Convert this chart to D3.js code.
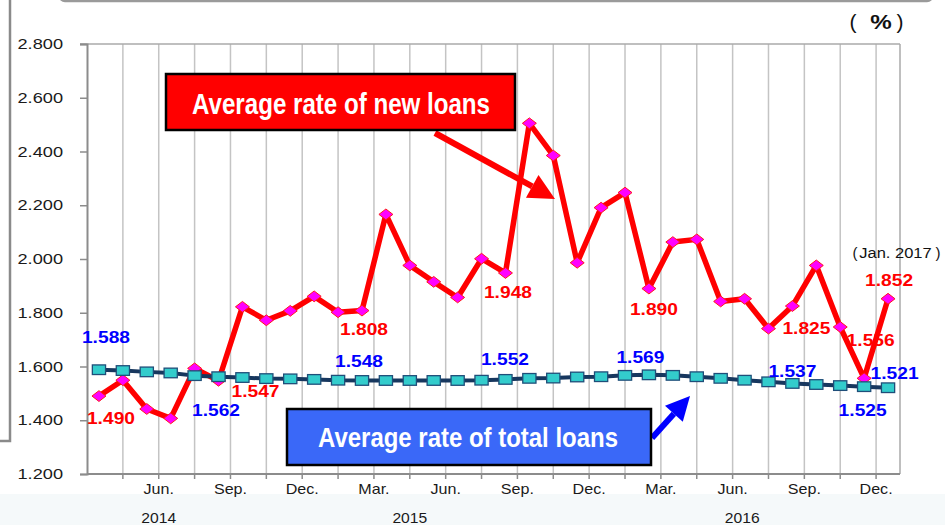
<!DOCTYPE html>
<html>
<head>
<meta charset="utf-8">
<script src="https://cdn.jsdelivr.net/npm/d3@7"></script>
<style>
  html, body { margin: 0; padding: 0; background: #ffffff; }
  svg { display: block; }
  text { font-family: "Liberation Sans", Arial, sans-serif; }
</style>
</head>
<body>
<svg id="chart" width="945" height="525"></svg>
<script>
// Monthly lending rates, Apr. 2014 – Jan. 2017 (%)
const months = [
  "2014-04","2014-05","2014-06","2014-07","2014-08","2014-09","2014-10","2014-11","2014-12",
  "2015-01","2015-02","2015-03","2015-04","2015-05","2015-06","2015-07","2015-08","2015-09",
  "2015-10","2015-11","2015-12","2016-01","2016-02","2016-03","2016-04","2016-05","2016-06",
  "2016-07","2016-08","2016-09","2016-10","2016-11","2016-12","2017-01"
];
const newLoans = [
  1.490, 1.549, 1.442, 1.407, 1.593, 1.547, 1.822, 1.772, 1.807,
  1.861, 1.802, 1.808, 2.166, 1.976, 1.915, 1.857, 2.001, 1.948,
  2.505, 2.385, 1.986, 2.191, 2.247, 1.890, 2.063, 2.073, 1.842,
  1.852, 1.741, 1.825, 1.976, 1.747, 1.556, 1.852
];
const totalLoans = [
  1.588, 1.585, 1.580, 1.576, 1.566, 1.562, 1.559, 1.555, 1.554,
  1.552, 1.549, 1.548, 1.548, 1.548, 1.548, 1.548, 1.549, 1.552,
  1.556, 1.557, 1.561, 1.562, 1.567, 1.569, 1.567, 1.562, 1.556,
  1.549, 1.543, 1.537, 1.533, 1.529, 1.525, 1.521
];
const yTickValues = [1.2, 1.4, 1.6, 1.8, 2.0, 2.2, 2.4, 2.6, 2.8];
const xTickLabels = ["Jun.","Sep.","Dec.","Mar.","Jun.","Sep.","Dec.","Mar.","Jun.","Sep.","Dec."];
const yearLabels = ["2014","2015","2016"];
const labelledMonths = ["2014-04","2014-09","2015-03","2015-09","2016-03","2016-09","2016-12","2017-01"];
const seriesNames = ["Average rate of new loans", "Average rate of total loans"];
const unitLabel = "%";
const lastMonthNote = "Jan. 2017";

const svg = d3.select("#chart");
const plot = { left: 87, right: 900, top: 44, bottom: 474 };

const x = d3.scaleBand().domain(months).range([plot.left, plot.right]).paddingInner(0).paddingOuter(0);
const bw = x.bandwidth();
const cx = m => x(m) + bw / 2;
const atBand = t => plot.left + t * bw;          // position in band units from the left edge
const y = d3.scaleLinear().domain([1.2, 2.8]).range([plot.bottom, plot.top]);
const fmt = d3.format(".3f");

// horizontally widened text helper
function wideText(parent, px, py, str, sx) {
  return parent.append("text")
    .attr("transform", `translate(${px},${py}) scale(${sx},1)`)
    .text(str);
}

// page frame remnants
svg.append("rect").attr("x", 0).attr("y", 494).attr("width", 945).attr("height", 31).attr("fill", "#f5f9fa");
svg.append("rect").attr("x", 60).attr("y", -30).attr("width", 872).attr("height", 31).attr("rx", 5)
  .attr("fill", "none").attr("stroke", "#9a9a9a").attr("stroke-width", 2.5);
svg.append("rect").attr("x", -30).attr("y", -30).attr("width", 40).attr("height", 471)
  .attr("fill", "none").attr("stroke", "#8a8a8a").attr("stroke-width", 2.5);

// vertical gridlines every one and a half months
const gridT = d3.range(1.5, 34, 1.5);
svg.append("g").selectAll("line").data(gridT).join("line")
  .attr("x1", d => atBand(d)).attr("x2", d => atBand(d))
  .attr("y1", plot.top).attr("y2", plot.bottom)
  .attr("stroke", "#c4c4c4").attr("stroke-width", 1.5);

// plot frame
svg.append("line").attr("x1", plot.left - 7).attr("x2", plot.right).attr("y1", plot.top).attr("y2", plot.top)
  .attr("stroke", "#aaaaaa").attr("stroke-width", 1.5);
svg.append("line").attr("x1", plot.right).attr("x2", plot.right).attr("y1", plot.top).attr("y2", plot.bottom)
  .attr("stroke", "#aaaaaa").attr("stroke-width", 1.5);

// y axis
const yAxis = d3.axisLeft(y).tickValues(yTickValues).tickSize(7).tickFormat(() => "");
const gy = svg.append("g").attr("transform", `translate(${plot.left},0)`).call(yAxis);
gy.select(".domain").attr("stroke", "#8c8c8c").attr("stroke-width", 2);
gy.selectAll(".tick line").attr("stroke", "#8c8c8c").attr("stroke-width", 1.5);
yTickValues.forEach(v => {
  wideText(svg, 63, y(v) + 5, fmt(v), 1.3)
    .attr("text-anchor", "end").attr("font-size", 14).attr("fill", "#1a1a1a");
});

// x axis
svg.append("line").attr("x1", plot.left).attr("x2", plot.right).attr("y1", plot.bottom).attr("y2", plot.bottom)
  .attr("stroke", "#8c8c8c").attr("stroke-width", 2);
svg.append("g").selectAll("line").data(gridT.filter(t => t < 34)).join("line")
  .attr("x1", d => atBand(d)).attr("x2", d => atBand(d))
  .attr("y1", plot.bottom).attr("y2", plot.bottom + 5)
  .attr("stroke", "#8c8c8c").attr("stroke-width", 1.5);
xTickLabels.forEach((lab, k) => {
  wideText(svg, atBand(3 + 3 * k), 494, lab, 1.15)
    .attr("text-anchor", "middle").attr("font-size", 14).attr("fill", "#1a1a1a");
});
const yearPos = [3, 13.5, 27.4];
yearLabels.forEach((lab, k) => {
  wideText(svg, atBand(yearPos[k]), 523, lab, 1.08)
    .attr("text-anchor", "middle").attr("font-size", 14.5).attr("fill", "#1a1a1a");
});

// unit label with wide parentheses
const unit = svg.append("g").attr("fill", "#111");
unit.append("text").attr("x", 853).attr("y", 29).attr("text-anchor", "middle").attr("font-size", 21).text("(");
unit.append("text").attr("x", 881).attr("y", 29).attr("text-anchor", "middle").attr("font-size", 21)
  .attr("font-weight", "bold").attr("transform", "translate(881,0) scale(1.15,1) translate(-881,0)").text(unitLabel);
unit.append("text").attr("x", 900).attr("y", 29).attr("text-anchor", "middle").attr("font-size", 21).text(")");

// note for the last month
const note = svg.append("g").attr("fill", "#111");
note.append("text").attr("x", 855).attr("y", 257.5).attr("text-anchor", "middle").attr("font-size", 15).text("(");
wideText(note, 895.5, 257.5, lastMonthNote, 1.1).attr("text-anchor", "middle").attr("font-size", 15);
note.append("text").attr("x", 938).attr("y", 257.5).attr("text-anchor", "middle").attr("font-size", 15).text(")");

// lines
const line = d3.line().x((d, i) => cx(months[i])).y(d => y(d));
svg.append("path").datum(newLoans).attr("d", line)
  .attr("fill", "none").attr("stroke", "#ff0000").attr("stroke-width", 5.5).attr("stroke-linejoin", "round");
svg.append("g").selectAll("path").data(newLoans).join("path")
  .attr("d", "M0,-5.4L7,0L0,5.4L-7,0Z")
  .attr("transform", (d, i) => `translate(${cx(months[i])},${y(d)})`)
  .attr("fill", "#ff00ff").attr("stroke", "#ff1a1a").attr("stroke-width", 1);

svg.append("path").datum(totalLoans).attr("d", line)
  .attr("fill", "none").attr("stroke", "#17375e").attr("stroke-width", 4).attr("stroke-linejoin", "round");
svg.append("g").selectAll("rect").data(totalLoans).join("rect")
  .attr("x", (d, i) => cx(months[i]) - 6.6).attr("y", d => y(d) - 4.8)
  .attr("width", 13.2).attr("height", 9.6)
  .attr("fill", "#33cccc").attr("stroke", "#1f4e79").attr("stroke-width", 1.3);

// value labels
const newOffsets = [[12, 28], [37, 16], [2, 24], [2.5, 25], [5, 26], [14, 28], [6.5, -32], [1, -13]];
const totalOffsets = [[7, -27], [-2.5, 39], [-3, -13], [-0.5, -14], [-8.5, -12], [0, -6], [-1.5, 29], [6.5, -9]];
labelledMonths.forEach((m, k) => {
  const i = months.indexOf(m);
  wideText(svg, cx(m) + newOffsets[k][0], y(newLoans[i]) + newOffsets[k][1], fmt(newLoans[i]), 1.13)
    .attr("text-anchor", "middle").attr("font-size", 17).attr("font-weight", "bold").attr("fill", "#ff0000");
  wideText(svg, cx(m) + totalOffsets[k][0], y(totalLoans[i]) + totalOffsets[k][1], fmt(totalLoans[i]), 1.13)
    .attr("text-anchor", "middle").attr("font-size", 17).attr("font-weight", "bold").attr("fill", "#0000ff");
});

// series call-out boxes with arrows
function arrow(x1, y1, x2, y2, color, w, head) {
  const ang = Math.atan2(y2 - y1, x2 - x1);
  const bx = x2 - head * Math.cos(ang), by = y2 - head * Math.sin(ang);
  svg.append("line").attr("x1", x1).attr("y1", y1).attr("x2", bx).attr("y2", by)
    .attr("stroke", color).attr("stroke-width", w);
  const px = Math.sin(ang) * head * 0.5, py = -Math.cos(ang) * head * 0.5;
  svg.append("path")
    .attr("d", `M${x2},${y2}L${bx + px},${by + py}L${bx - px},${by - py}Z`)
    .attr("fill", color);
}
arrow(435, 133, 555, 199, "#ff0000", 6, 26);
arrow(652, 438, 690, 396, "#0000ff", 6, 24);

svg.append("rect").attr("x", 166).attr("y", 74).attr("width", 349).attr("height", 56)
  .attr("fill", "#ff0000").attr("stroke", "#000").attr("stroke-width", 2.5);
svg.append("text").attr("x", 192).attr("y", 114).attr("font-size", 29).attr("font-weight", "bold")
  .attr("fill", "#fff").attr("textLength", 298).attr("lengthAdjust", "spacingAndGlyphs")
  .attr("font-family", "'Liberation Sans Narrow', 'Liberation Sans', Arial, sans-serif")
  .text(seriesNames[0]);

svg.append("rect").attr("x", 287).attr("y", 409).attr("width", 364).attr("height", 56)
  .attr("fill", "#3a68f8").attr("stroke", "#000").attr("stroke-width", 2.5);
svg.append("text").attr("x", 318).attr("y", 447).attr("font-size", 28).attr("font-weight", "bold")
  .attr("fill", "#fff").attr("textLength", 300).attr("lengthAdjust", "spacingAndGlyphs")
  .attr("font-family", "'Liberation Sans Narrow', 'Liberation Sans', Arial, sans-serif")
  .text(seriesNames[1]);
</script>
</body>
</html>
